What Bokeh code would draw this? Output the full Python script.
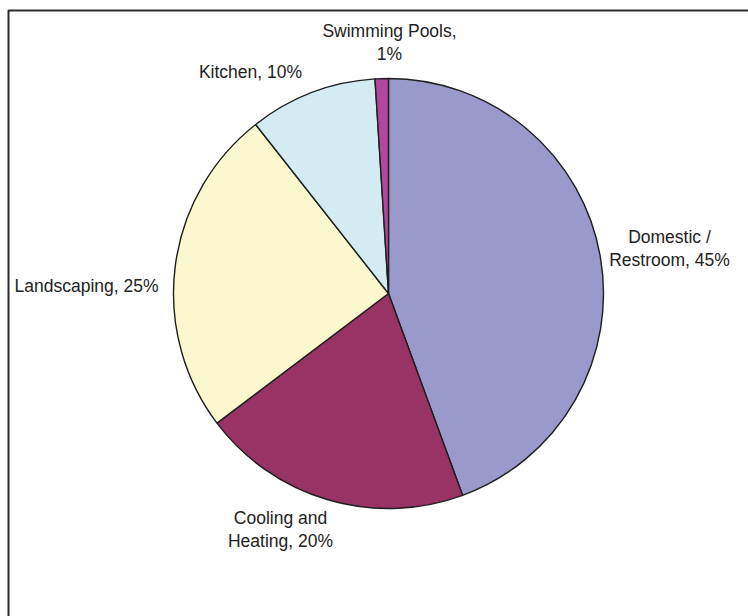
import math
from bokeh.plotting import figure
from bokeh.models import ColumnDataSource, Range1d
from bokeh.core.properties import value
from bokeh.embed import file_html
from bokeh.resources import INLINE

# ---- data ----
categories = ["Domestic / Restroom", "Cooling and Heating", "Landscaping", "Kitchen", "Swimming Pools"]
labels = ["Domestic /\nRestroom, 45%", "Cooling and\nHeating, 20%", "Landscaping, 25%", "Kitchen, 10%", "Swimming Pools,\n1%"]
shares = [44.4, 20.3, 24.7, 9.6, 1.0]
colors = ["#9999CC", "#993366", "#FBF8D0", "#D3ECF4", "#B3479E"]

# ---- layout (pixel space, y measured downward from top) ----
W, H = 748, 616
cx, cy, r = 388, 293, 215
label_px = [(669, 248), (280, 529), (86, 285), (250, 71), (389, 42)]

p = figure(width=W, height=H, output_backend="svg", toolbar_location=None,
           x_range=Range1d(0, W), y_range=Range1d(0, H),
           min_border=0, min_border_left=0, min_border_right=0,
           min_border_top=0, min_border_bottom=0)
p.axis.visible = False
p.grid.visible = False
p.outline_line_color = None
p.background_fill_color = "white"
p.border_fill_color = "white"

# chart area border (extends beyond the window on right/bottom)
p.quad(left=[8], right=[W + 60], top=[H - 10], bottom=[-60],
       fill_color=None, line_color="#2a2a2a", line_width=2)

total = sum(shares)
starts, ends = [], []
cum = 0.0
for s in shares:
    starts.append(math.pi / 2 - 2 * math.pi * cum / total)
    cum += s
    ends.append(math.pi / 2 - 2 * math.pi * cum / total)

src = ColumnDataSource(dict(category=categories, start=starts, end=ends, color=colors,
                            x=[cx] * len(shares), y=[H - cy] * len(shares)))
p.wedge(x="x", y="y", radius=r, start_angle="start", end_angle="end",
        direction="clock", fill_color="color", line_color="#1e1e1e",
        line_width=1.4, source=src)

lsrc = ColumnDataSource(dict(x=[lx for lx, ly in label_px],
                             y=[H - ly for lx, ly in label_px],
                             text=labels))
p.text(x="x", y="y", text="text", source=lsrc,
       text_font=value("Liberation Sans"), text_font_size="17.5px",
       text_color="#222222", text_align="center", text_baseline="middle",
       text_line_height=1.18)

open("out.html", "w").write(file_html(p, INLINE))
